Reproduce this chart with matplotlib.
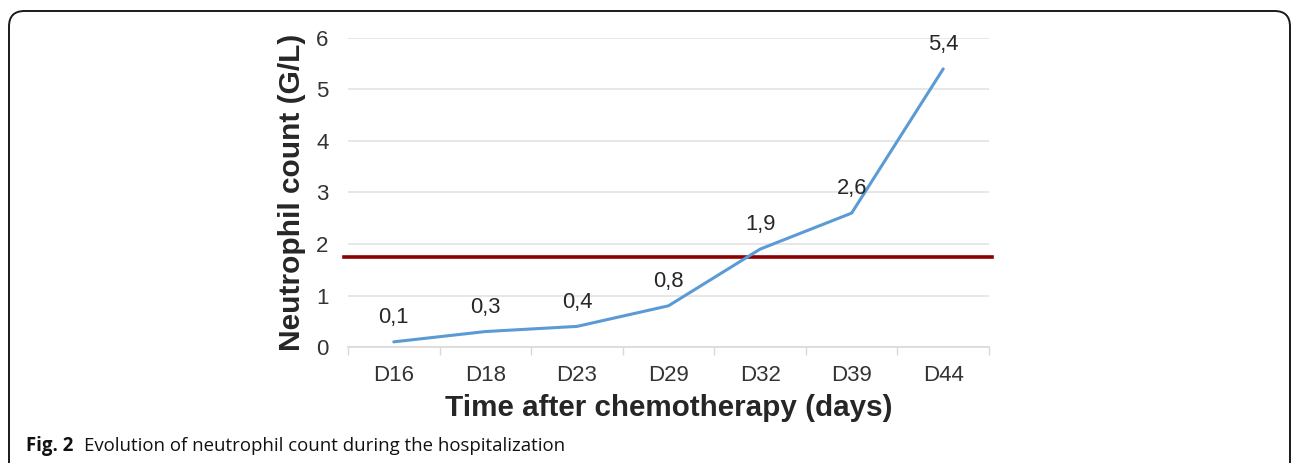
import matplotlib
matplotlib.use("Agg")
import matplotlib.pyplot as plt
from matplotlib.patches import FancyBboxPatch
import numpy as np

days = ["D16", "D18", "D23", "D29", "D32", "D39", "D44"]
neutrophils = [0.1, 0.3, 0.4, 0.8, 1.9, 2.6, 5.4]
value_labels = ["0,1", "0,3", "0,4", "0,8", "1,9", "2,6", "5,4"]
threshold = 1.75
yticks = [0, 1, 2, 3, 4, 5, 6]

W, H = 1292, 463
fig = plt.figure(figsize=(W / 100, H / 100), dpi=100)

# frame
frame = FancyBboxPatch((9 / W, -0.2), (1290 - 9) / W, (463 - 11) / H + 0.2,
                       boxstyle="round,pad=0,rounding_size=0.012",
                       transform=fig.transFigure, fill=False,
                       edgecolor="#1a1a1a", linewidth=1.4, mutation_aspect=W / H)
fig.patches.append(frame)

ax = fig.add_axes([348 / W, 1 - 347 / H, (989 - 348) / W, (347 - 38) / H])
x = np.arange(len(days))
ax.plot(x, neutrophils, color="#5B9BD5", linewidth=2.2, zorder=3, solid_capstyle="round")
ax.axhline(threshold, color="#8B0000", linewidth=2.6, zorder=2,
           xmin=-0.006, xmax=1.005, clip_on=False)

for xi, v, lab in zip(x, neutrophils, value_labels):
    ax.annotate(lab, (xi, v), xytext=(0, 17.5), textcoords="offset points",
                ha="center", va="center", fontsize=15.8, color="#262626",
                family="Liberation Sans")

ax.set_xlim(-0.5, len(days) - 0.5)
ax.set_ylim(0, 6)
ax.set_yticks(yticks)
ax.set_yticklabels([str(t) for t in yticks], family="Liberation Sans", fontsize=16, color="#333333")
ax.set_xticks(x)
ax.set_xticklabels(days, family="Liberation Sans", fontsize=16, color="#333333")
ax.set_xticks(np.arange(-0.5, len(days)), minor=True)
ax.tick_params(axis="x", which="major", length=0, pad=13)
ax.tick_params(axis="x", which="minor", length=6, color="#D9D9D9", width=1)
ax.tick_params(axis="y", length=0, pad=14)
ax.grid(axis="y", color="#E3E3E3", linewidth=1.2, zorder=0)
ax.set_axisbelow(True)
for s in ["top", "right", "left"]:
    ax.spines[s].set_visible(False)
ax.spines["bottom"].set_color("#D9D9D9")
ax.spines["bottom"].set_linewidth(1.2)

ax.set_ylabel("Neutrophil count (G/L)", family="Liberation Sans", fontweight="bold",
              fontsize=21.5, color="#262626", labelpad=7)
ax.set_xlabel("Time after chemotherapy (days)", family="Liberation Sans", fontweight="bold",
              fontsize=21.3, color="#262626", labelpad=6)

fig.text(26 / W, 1 - 446 / H, "Fig. 2", family="Open Sans", fontweight="bold",
         fontsize=13.4, va="center", ha="left", color="#111111")
fig.text(84 / W, 1 - 446 / H, "Evolution of neutrophil count during the hospitalization",
         family="Open Sans", fontsize=13.4, va="center", ha="left", color="#111111")

fig.savefig("out.png", dpi=100)
